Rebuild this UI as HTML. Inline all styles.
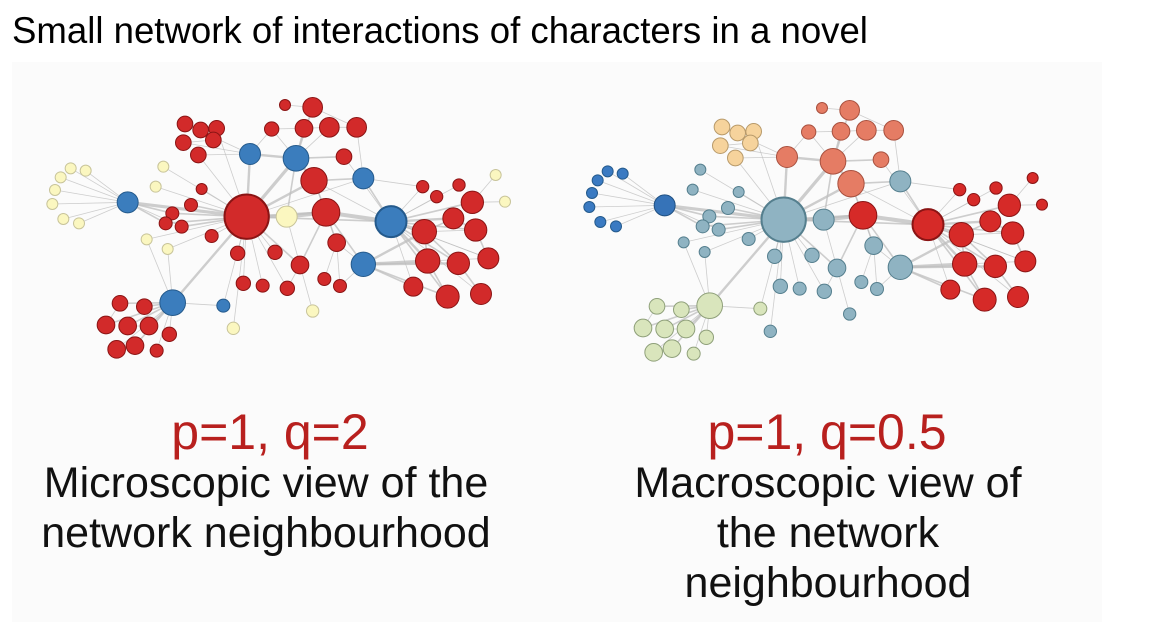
<!DOCTYPE html>
<html><head><meta charset="utf-8"><style>
body{margin:0;width:1172px;height:642px;background:#fff;overflow:hidden;font-family:"Liberation Sans",Arial,sans-serif;position:relative}
#title{position:absolute;left:12px;top:10px;font-size:36.6px;color:#000;white-space:nowrap}
#panel{position:absolute;left:12px;top:62px;width:1090px;height:560px;background:#fbfbfb}
svg{position:absolute;left:0;top:0}
.lbl{position:absolute;text-align:center;white-space:nowrap;color:#111;font-size:43px;line-height:50px}
.pq{color:#b8201e;font-size:50px}
</style></head><body>
<div id="title">Small network of interactions of characters in a novel</div>
<div id="panel"></div>
<svg id="net" width="1172" height="642"></svg>
<div class="lbl pq" style="left:90px;top:407px;width:360px">p=1, q=2</div>
<div class="lbl" style="left:0px;top:458px;width:532px">Microscopic view of the<br>network neighbourhood</div>
<div class="lbl pq" style="left:637px;top:407px;width:380px">p=1, q=0.5</div>
<div class="lbl" style="left:588px;top:458px;width:480px">Macroscopic view of<br>the network<br>neighbourhood</div>
<script>
const nodeX=[122,167,92,75,67,100,147,293,400,377,350,413,515,483,427,407,455,545,465,512,560,460,550,505,660,765,848,725,822,898,980,942,798,852,1000,650,770,888,1083,1000,920,623,735,810,640,698,772,883,930,848,610,580,428,270,343,228,293,357,418,260,315,380,1178,1220,1287,1397,1425,1327,1270,1183,1337,1193,1285,1375,1150,1253,1353];
const nodeY=[265,272,292,330,372,417,430,367,260,320,478,507,327,375,400,430,440,468,132,150,145,188,180,225,222,75,82,147,145,142,142,230,235,302,295,410,410,397,425,553,488,520,517,555,610,617,625,597,618,693,745,677,668,670,680,735,738,738,763,808,797,812,320,350,315,285,365,367,415,455,450,543,550,535,620,650,642];
const nodeR=[15,15,15,15,15,15,15,30,15,15,15,15,15,18,18,18,18,18,22,22,22,22,22,22,30,15,28,20,25,28,28,22,37,38,30,65,30,40,45,35,25,20,20,25,20,18,20,18,18,17,17,18,37,22,22,25,25,25,20,25,25,18,17,17,17,15,15,32,30,35,32,35,32,30,27,33,30];
const leftGroup="yyyyyyybyyyyrrrrrrrrrrrrbrrrrrrrbrbryrbbrrrrrrrrryybbrrrrrrrrrrrryyrrrrrrrrrr";
const rightGroup="dddddddDttttttttttppppppsssssssssstttRRttttttttttttgggggggggggRRRRRRRRRRRRRRR";
const edges=[[7,0,1],[7,1,1],[7,2,1],[7,3,1],[7,4,1],[7,5,1],[7,6,1],[7,35,4],[7,14,2],[7,15,2],[7,16,1],[35,8,1],[35,9,1],[35,10,1],[35,11,1],[35,12,1],[35,13,2],[35,14,2],[35,15,2],[35,16,2],[35,17,1],[35,20,1],[35,23,1],[35,24,3],[35,32,4],[35,33,3],[35,36,4],[35,37,3],[35,41,1],[35,42,1],[35,43,2],[35,44,1],[35,45,1],[35,46,1],[35,50,1],[35,51,1],[35,52,3],[35,38,2],[24,32,3],[24,18,1],[24,23,1],[24,21,1],[32,33,3],[32,26,2],[32,27,1],[32,28,2],[32,29,1],[32,31,2],[32,36,2],[33,37,2],[33,34,2],[34,30,1],[34,38,2],[34,62,1],[36,37,5],[37,38,5],[37,40,2],[37,43,2],[37,39,2],[38,67,2],[38,68,3],[38,69,4],[38,70,2],[38,71,3],[38,72,2],[38,73,1],[38,74,1],[38,75,2],[38,76,1],[38,62,1],[38,63,1],[38,64,1],[39,69,3],[39,71,4],[39,72,3],[39,74,2],[39,75,2],[39,40,1],[39,48,1],[52,53,2],[52,54,2],[52,55,2],[52,56,2],[52,57,2],[52,58,1],[52,59,1],[52,60,2],[52,61,1],[52,51,1],[52,10,1],[52,11,1],[67,65,1],[67,66,1],[40,47,1],[40,48,1],[43,49,1],[43,46,1],[26,30,1],[28,29,1],[29,30,1],[31,38,1],[69,72,2],[68,70,2],[71,75,2],[72,76,2],[70,73,2],[69,71,2],[68,69,2],[53,55,1],[56,57,1],[59,60,1],[18,19,1],[19,20,1],[21,22,1],[27,28,1],[25,26,1],[33,38,1],[36,43,1],[35,34,1],[24,27,1],[33,40,1],[38,73,1],[69,70,1],[71,73,1]];
const fills={y:"#fbf7c0",b:"#3b7dbd",r:"#d22a2a",d:"#3a7ac2",D:"#3673b8",t:"#8fb3c2",p:"#f6d39c",s:"#e57c64",R:"#d62a28",g:"#d9e5bc"};
const strokes={y:"#c8c49a",b:"#245a8c",r:"#8a1414",d:"#245a8c",D:"#1f4f80",t:"#557f8e",p:"#b89a6a",s:"#a8503e",R:"#8a1414",g:"#8fa07a"};
const svg=document.getElementById('net');
const NS="http://www.w3.org/2000/svg";
function px(zx,side){return side===0?30+zx/3:30+zx/3+537;}
function py(zy,side){return side===0?80+zy/3:80+zy/3+3;}
[0,1].forEach(side=>{
  const grp=side===0?leftGroup:rightGroup;
  const ge=document.createElementNS(NS,'g');
  
  
  svg.appendChild(ge);
  edges.forEach(e=>{
    const l=document.createElementNS(NS,'line');
    l.setAttribute('x1',px(nodeX[e[0]],side));l.setAttribute('y1',py(nodeY[e[0]],side));
    l.setAttribute('x2',px(nodeX[e[1]],side));l.setAttribute('y2',py(nodeY[e[1]],side));
    l.setAttribute('stroke','#bdbdbd');l.setAttribute('stroke-width',e[2]*0.8);l.setAttribute('stroke-opacity','0.75');
    
    
    ge.appendChild(l);
  });
  const gn=document.createElementNS(NS,'g');
  
  
  svg.appendChild(gn);
  nodeX.forEach((x,i)=>{
    const c=document.createElementNS(NS,'circle');
    c.setAttribute('cx',px(x,side));c.setAttribute('cy',py(nodeY[i],side));
    c.setAttribute('r',nodeR[i]/3+0.5);
    const k=grp[i];
    c.setAttribute('fill',fills[k]);c.setAttribute('stroke',strokes[k]);
    c.setAttribute('stroke-width',nodeR[i]>40?2:1);
    
    
    gn.appendChild(c);
  });
});
</script>
</body></html>
